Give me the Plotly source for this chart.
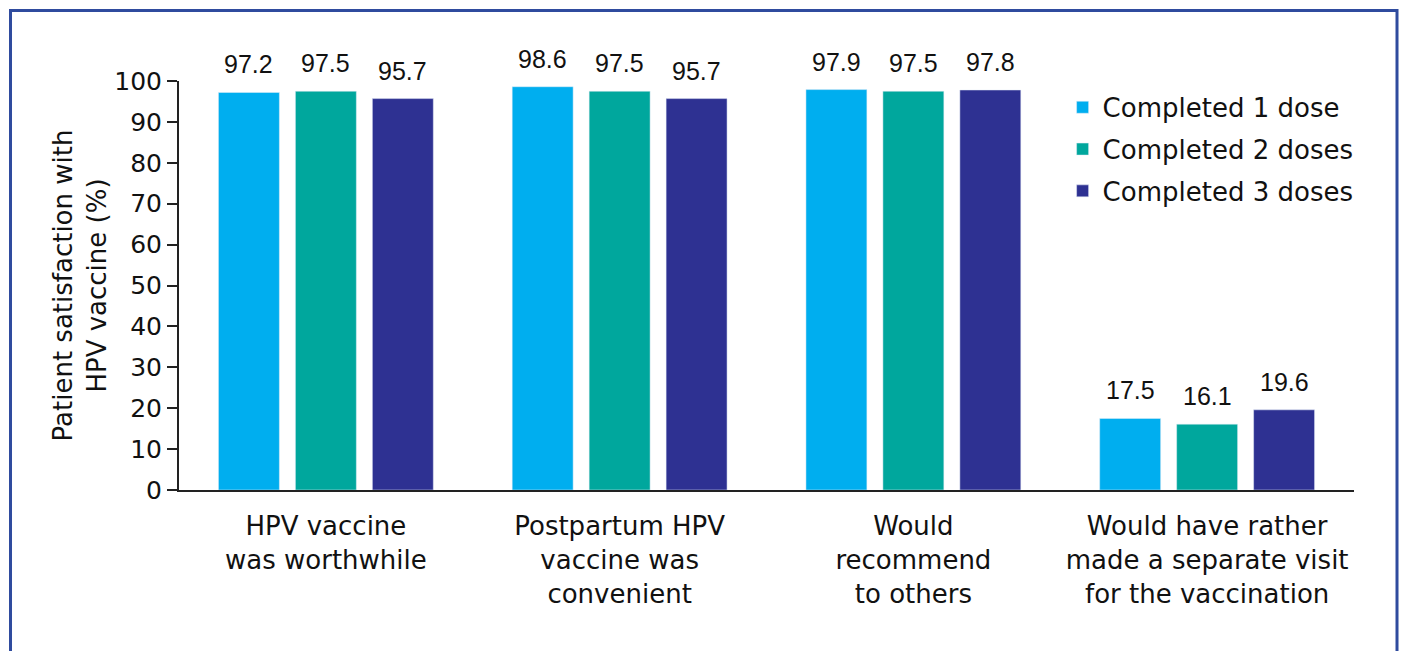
import plotly.graph_objects as go

# Survey items (x categories) and satisfaction percentages by doses completed
categories = [
    "HPV vaccine<br>was worthwhile",
    "Postpartum HPV<br>vaccine was<br>convenient",
    "Would<br>recommend<br>to others",
    "Would have rather<br>made a separate visit<br>for the vaccination",
]
series_names = ["Completed 1 dose", "Completed 2 doses", "Completed 3 doses"]
dose1 = [97.2, 98.6, 97.9, 17.5]
dose2 = [97.5, 97.5, 97.5, 16.1]
dose3 = [95.7, 95.7, 97.8, 19.6]
y_ticks = [0, 10, 20, 30, 40, 50, 60, 70, 80, 90, 100]

colors = ["#00AEEF", "#00A79D", "#2E3192"]
FONT = "DejaVu Sans"
VALUE_FONT = "Liberation Sans"

BARGAP = 0.214
BARGROUPGAP = 0.208

fig = go.Figure()
x_idx = list(range(len(categories)))
all_series = [dose1, dose2, dose3]
for k, (name, vals, col) in enumerate(zip(series_names, all_series, colors)):
    fig.add_trace(go.Bar(
        x=x_idx, y=vals, name=name, marker_color=col,
        legendgroup=name, hoverinfo="y",
    ))

# value labels above each bar, positioned from the bar layout
slot = (1 - BARGAP) / len(all_series)
for k, vals in enumerate(all_series):
    off = (k - (len(all_series) - 1) / 2) * slot
    for i, v in enumerate(vals):
        fig.add_annotation(
            x=i + off, y=v, xref="x", yref="y", text=f"{v:.1f}",
            showarrow=False, yanchor="bottom", yshift=12,
            font=dict(family=VALUE_FONT, size=25, color="#111"),
        )

# dark blue frame around the figure
fig.add_shape(type="rect", xref="paper", yref="paper",
              x0=-0.1434, x1=1.0366, y0=-0.45, y1=1.1725,
              line=dict(color="#2F4B9E", width=3), layer="above")

fig.update_layout(
    width=1405, height=651,
    plot_bgcolor="white", paper_bgcolor="white",
    margin=dict(l=179, r=51, t=81, b=161),
    barmode="group", bargap=BARGAP, bargroupgap=BARGROUPGAP,
    font=dict(family=FONT, size=26, color="#111"),
    legend=dict(x=0.752, y=0.993, xanchor="left", yanchor="top",
                font=dict(family=FONT, size=26, color="#111"),
                tracegroupgap=5, bgcolor="rgba(0,0,0,0)"),
    showlegend=True,
)
fig.update_xaxes(
    range=[-0.5, 3.5], tickvals=x_idx, ticktext=categories,
    showline=True, linecolor="#222", linewidth=2, ticks="",
    showgrid=False, zeroline=False, tickfont=dict(size=26),
    ticklabelstandoff=12,
)
fig.update_yaxes(
    range=[0, 100], tickvals=y_ticks, showline=True, linecolor="#222",
    linewidth=2, ticks="outside", ticklen=10, tickwidth=2, tickcolor="#222",
    showgrid=False, zeroline=False, tickfont=dict(size=25),
    ticklabelstandoff=0,
    title=dict(text="Patient satisfaction with<br>HPV vaccine (%)",
               font=dict(size=26), standoff=0),
)

fig.write_html("out.html")
